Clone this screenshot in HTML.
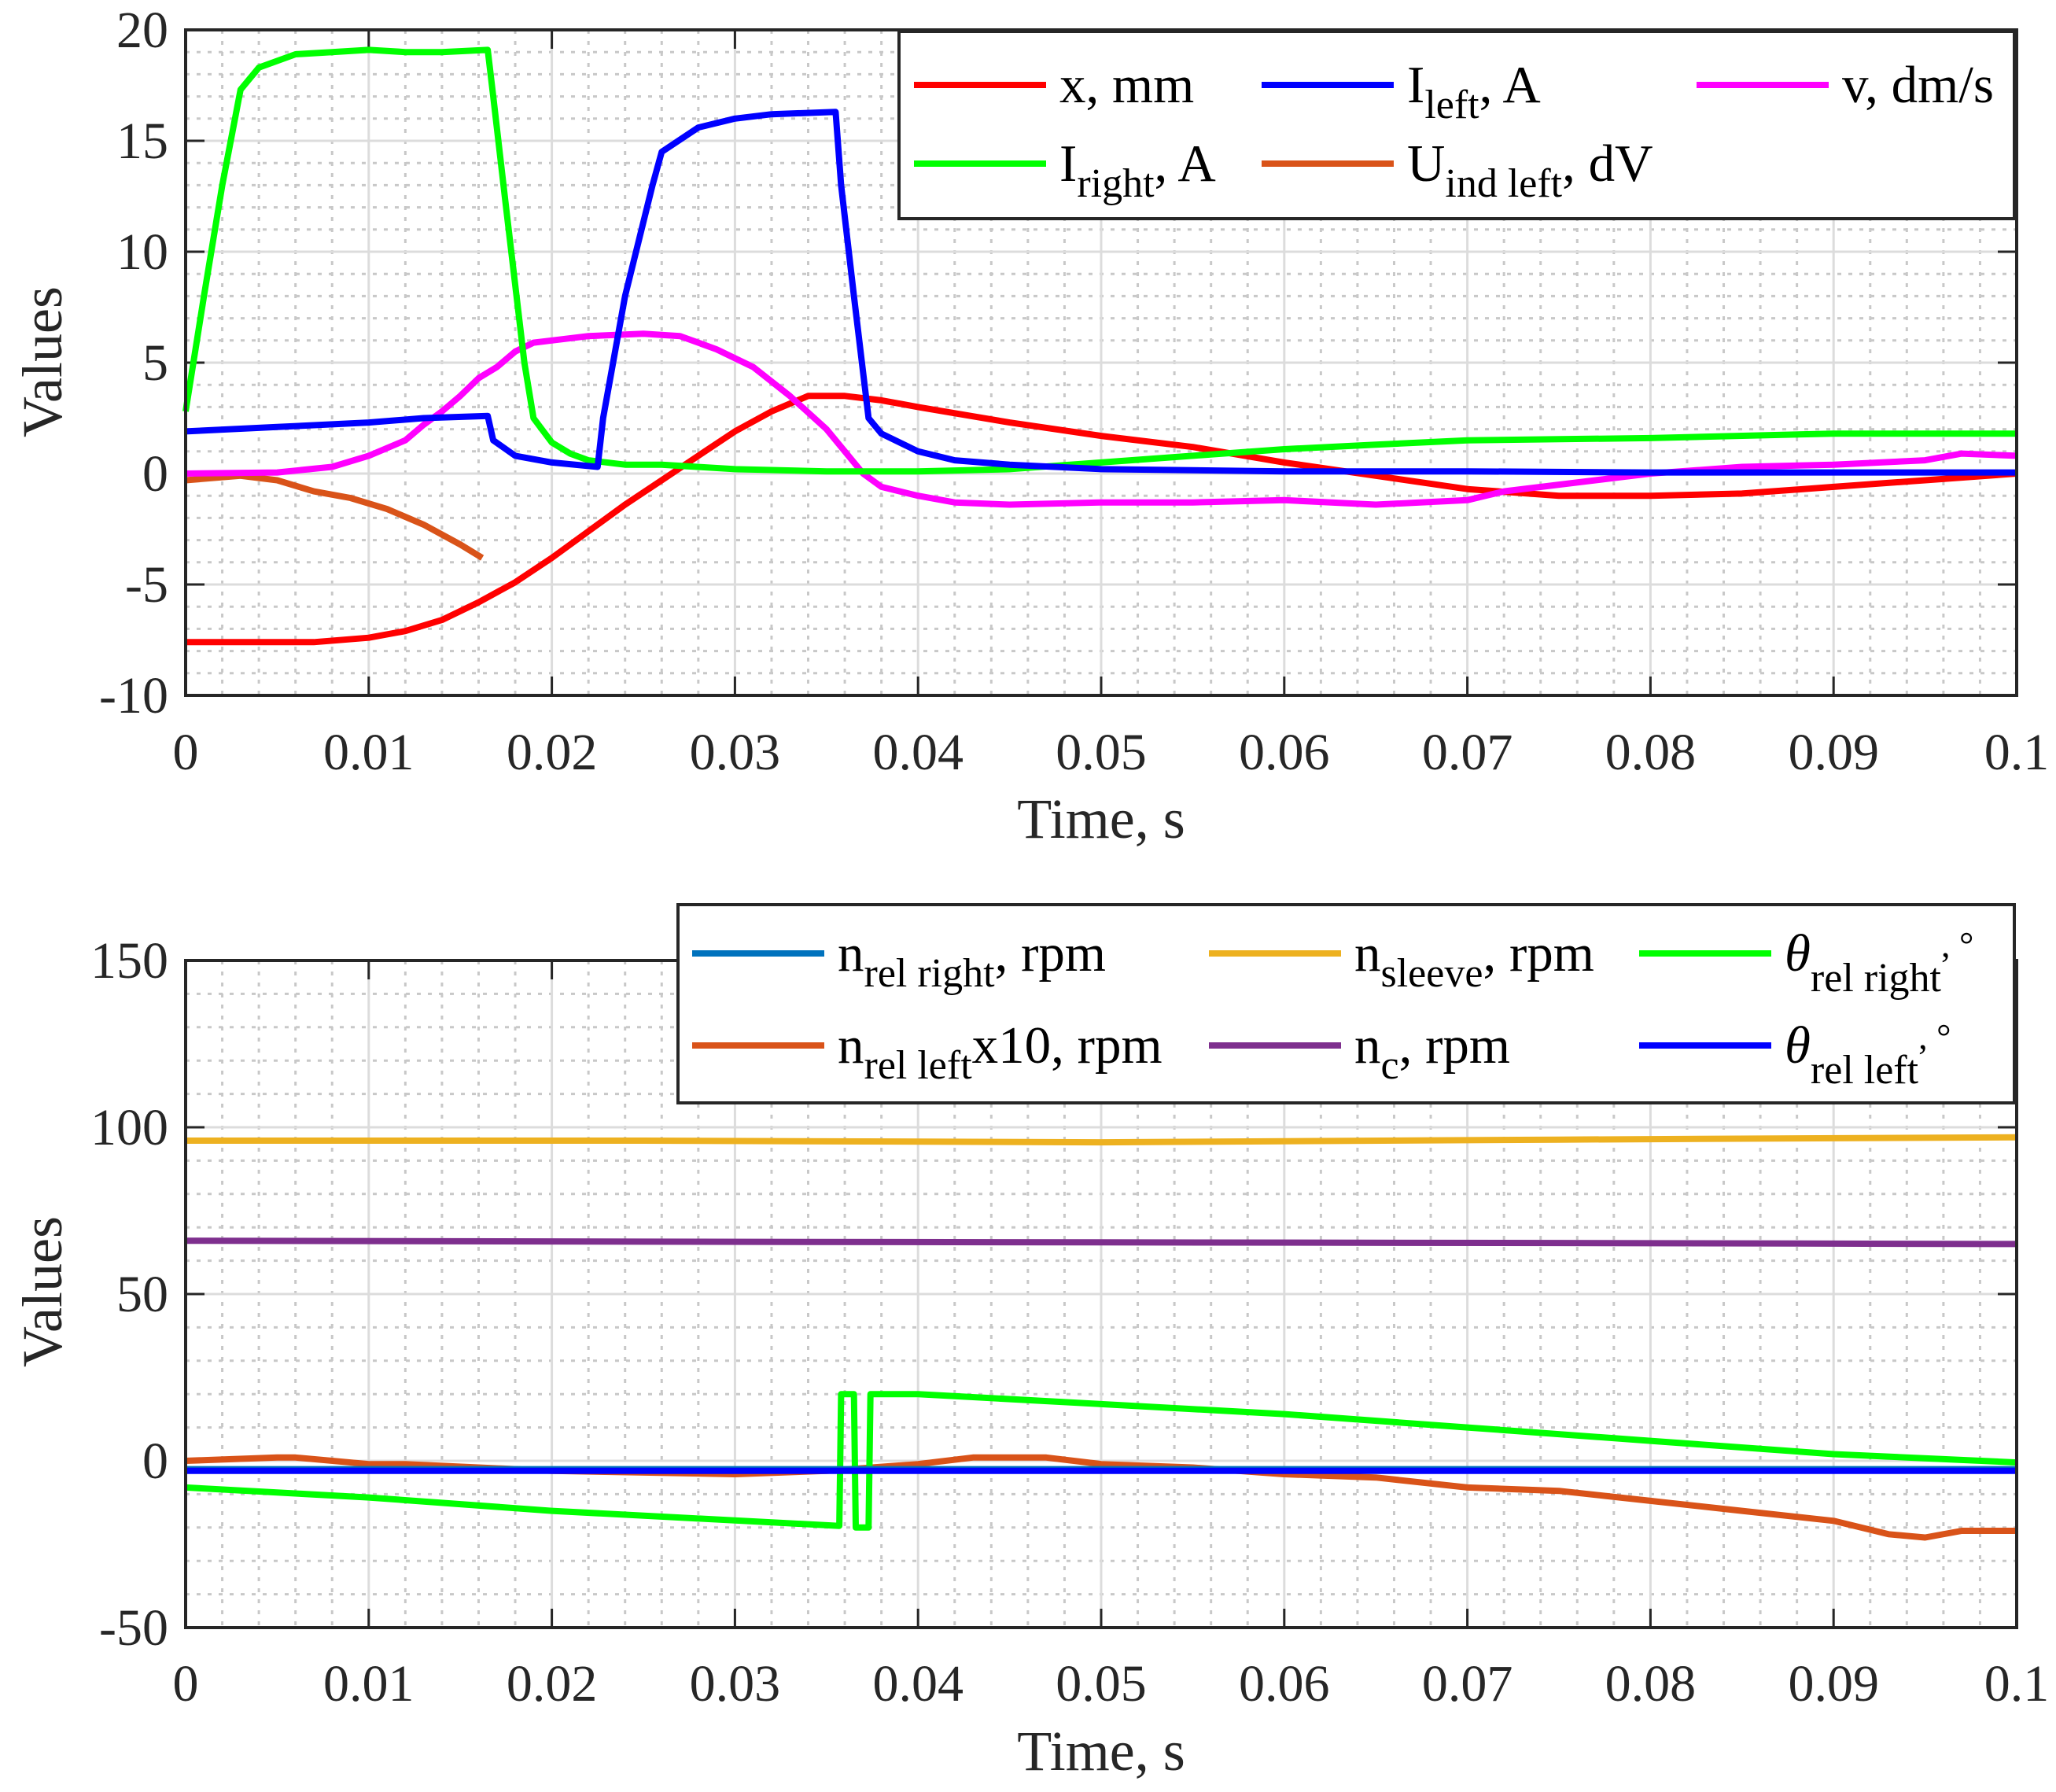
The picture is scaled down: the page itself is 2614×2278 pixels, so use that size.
<!DOCTYPE html>
<html><head><meta charset="utf-8"><style>
html,body{margin:0;padding:0;background:#fff}
svg{display:block;font-family:"Liberation Serif","DejaVu Serif",serif}
</style></head><body>
<svg id="chart" xmlns="http://www.w3.org/2000/svg" width="2614" height="2278" viewBox="0 0 2614 2278"></svg>
<script>
// ---- data (time in ms) ----
const xT=[0,7,10,12,14,16,18,20,22,24,26,28,30,32,34,36,38,40,45,50,55,60,65,70,75,80,85,90,95,100];
const xV=[-7.6,-7.6,-7.4,-7.1,-6.6,-5.8,-4.9,-3.8,-2.6,-1.4,-0.3,0.8,1.9,2.8,3.5,3.5,3.3,3.0,2.3,1.7,1.2,0.5,-0.1,-0.7,-1.0,-1.0,-0.9,-0.6,-0.3,0];
const ilT=[0,5,10,13,16.5,16.8,18,20,22.5,22.8,24,25.5,26,28,30,32,35.5,35.8,36.5,37.3,38,40,42,45,50,60,70,80,100];
const ilV=[1.9,2.1,2.3,2.5,2.6,1.5,0.8,0.5,0.3,2.5,8,13,14.5,15.6,16,16.2,16.3,13,8,2.5,1.8,1,0.6,0.4,0.2,0.1,0.1,0.05,0.05];
const vT=[0,5,8,10,12,13,14,15,16,17,18,19,20,22,25,27,29,31,33,35,36,37,38,40,42,45,50,55,60,65,70,72,75,80,85,90,95,97,100];
const vV=[0,0.05,0.3,0.8,1.5,2.2,2.8,3.5,4.3,4.8,5.5,5.9,6.0,6.2,6.3,6.2,5.6,4.8,3.5,2.0,1,0,-0.6,-1.0,-1.3,-1.4,-1.3,-1.3,-1.2,-1.4,-1.2,-0.8,-0.5,0,0.3,0.4,0.6,0.9,0.8];
const irT=[0,1,2,3,4,6,8,10,12,14,16.5,16.8,17.5,18.5,19,20,21,22,24,26,30,35,40,45,50,55,60,65,70,80,90,100];
const irV=[2.8,8,13,17.3,18.3,18.9,19.0,19.1,19.0,19.0,19.1,17,12,5,2.5,1.4,0.9,0.6,0.4,0.4,0.2,0.1,0.1,0.2,0.5,0.8,1.1,1.3,1.5,1.6,1.8,1.8];
const uT=[0,3,5,7,9,11,13,15,16.2];
const uV=[-0.3,-0.1,-0.3,-0.8,-1.1,-1.6,-2.3,-3.2,-3.8];
// bottom
const nsT=[0,25,50,75,100]; const nsV=[96,96,95.5,96.3,97];
const ncT=[0,25,50,75,100]; const ncV=[66,65.7,65.5,65.3,65];
const nrrT=[0,100]; const nrrV=[-2.5,-2.5];
const tlT=[0,100]; const tlV=[-3,-3];
const trT=[0,10,20,35.7,35.8,36.5,36.6,37.3,37.4,40,50,60,70,80,90,100];
const trV=[-8,-11,-15,-19.5,20,20,-20,-20,20,20,17,14,10,6,2,-0.5];
const nlT=[0,5,6,10,12,20,30,35,40,43,47,50,55,60,65,70,75,80,85,90,93,95,97,100];
const nlV=[0,1,1,-1,-1,-3,-4,-3,-1,1,1,-1,-2,-4,-5,-8,-9,-12,-15,-18,-22,-23,-21,-21];
const xTicks=["0","0.01","0.02","0.03","0.04","0.05","0.06","0.07","0.08","0.09","0.1"];
const topYTicks=[20,15,10,5,0,-5,-10];
const botYTicks=[150,100,50,0,-50];

const NS="http://www.w3.org/2000/svg";
const svg=document.getElementById('chart');
function el(tag,attrs,parent){const e=document.createElementNS(NS,tag);for(const k in attrs)e.setAttribute(k,attrs[k]);(parent||svg).appendChild(e);return e;}
const X0=236,X1=2564;
const sx=t=>X0+(t/100)*(X1-X0);

function panel(name,yTop,yBot,vMax,vMin,minorStep,ticks,series,xlabY,tickLabY,ylabY){
  const sy=v=>yTop+(vMax-v)/(vMax-vMin)*(yBot-yTop);
  const g=el('g',{});
  
  
  for(let t=0;t<=100;t+=2){if(t%10===0)continue;const l=el('line',{x1:sx(t),x2:sx(t),y1:yTop,y2:yBot,stroke:'#c8c8c8','stroke-width':3,'stroke-dasharray':'5 9'},g);}
  for(let v=vMin;v<=vMax;v+=minorStep){if(ticks.includes(v))continue;const l=el('line',{x1:X0,x2:X1,y1:sy(v),y2:sy(v),stroke:'#c8c8c8','stroke-width':3,'stroke-dasharray':'5 9'},g);}
  xTicks.forEach((lab,i)=>{const x=sx(i*10);const l=el('line',{x1:x,x2:x,y1:yTop,y2:yBot,stroke:'#dcdcdc','stroke-width':3},g);
    el('line',{x1:x,x2:x,y1:yBot,y2:yBot-24,stroke:'#262626','stroke-width':3},g);el('line',{x1:x,x2:x,y1:yTop,y2:yTop+24,stroke:'#262626','stroke-width':3},g);
    const tx=el('text',{x:x,y:tickLabY,'font-size':66,'text-anchor':'middle',fill:'#262626'},g);tx.textContent=lab;});
  ticks.forEach(v=>{const y=sy(v);const l=el('line',{x1:X0,x2:X1,y1:y,y2:y,stroke:'#dcdcdc','stroke-width':3},g);
    el('line',{x1:X0,x2:X0+24,y1:y,y2:y,stroke:'#262626','stroke-width':3},g);el('line',{x1:X1,x2:X1-24,y1:y,y2:y,stroke:'#262626','stroke-width':3},g);
    const tx=el('text',{x:X0-22,y:y+22,'font-size':66,'text-anchor':'end',fill:'#262626'},g);tx.textContent=String(v);});
  series.forEach(s=>{const d=s.t.map((t,i)=>(i?'L':'M')+sx(t).toFixed(1)+' '+sy(s.v[i]).toFixed(1)).join(' ');
    const p=el('path',{d:d,fill:'none',stroke:s.c,'stroke-width':8,'stroke-linejoin':'round'},g);});
  const fr=el('rect',{x:X0,y:yTop,width:X1-X0,height:yBot-yTop,fill:'none',stroke:'#262626','stroke-width':4},g);
  const xl=el('text',{x:(X0+X1)/2,y:xlabY,'font-size':72,'text-anchor':'middle',fill:'#262626'},g);xl.textContent='Time, s';
  const yl=el('text',{x:0,y:0,'font-size':72,'text-anchor':'middle',fill:'#262626',transform:`translate(78 ${ylabY}) rotate(-90)`},g);yl.textContent='Values';
}
panel('top-panel',38,884,20,-10,1,topYTicks,[
 {n:'series-u-ind-left',c:'#d95319',t:uT,v:uV},
 {n:'series-x',c:'#ff0000',t:xT,v:xV},
 {n:'series-v',c:'#ff00ff',t:vT,v:vV},
 {n:'series-i-right',c:'#00ff00',t:irT,v:irV},
 {n:'series-i-left',c:'#0000ff',t:ilT,v:ilV}],1065,978,460);
panel('bottom-panel',1221,2069,150,-50,10,botYTicks,[
 {n:'series-n-sleeve',c:'#edb120',t:nsT,v:nsV},
 {n:'series-n-c',c:'#7e2f8e',t:ncT,v:ncV},
 {n:'series-n-rel-left',c:'#d95319',t:nlT,v:nlV},
 {n:'series-theta-rel-right',c:'#00ff00',t:trT,v:trV},
 {n:'series-n-rel-right',c:'#0072bd',t:nrrT,v:nrrV},
 {n:'series-theta-rel-left',c:'#0000ff',t:tlT,v:tlV}],2250,2162,1642);

function legend(name,bx,by,bw,bh,items){
  const g=el('g',{});
  el('rect',{x:bx,y:by,width:bw,height:bh,fill:'#fff',stroke:'#262626','stroke-width':4},g);
  items.forEach(it=>{const e=el('g',{},g);
    el('line',{x1:it.x,x2:it.x+168,y1:it.y,y2:it.y,stroke:it.c,'stroke-width':8},e);
    const t=el('text',{x:it.x+185,y:it.y+22,'font-size':67,fill:'#000'},e);t.innerHTML=it.h;});
}
legend('top-legend',1143,40,1418,238,[
 {x:1162,y:108,c:'#ff0000',h:'x, mm'},
 {x:1604,y:108,c:'#0000ff',h:'I<tspan dy="20" font-size="52">left</tspan><tspan dy="-20">, A</tspan>'},
 {x:2157,y:108,c:'#ff00ff',h:'v, dm/s'},
 {x:1162,y:208,c:'#00ff00',h:'I<tspan dy="20" font-size="52">right</tspan><tspan dy="-20">, A</tspan>'},
 {x:1604,y:208,c:'#d95319',h:'U<tspan dy="20" font-size="52">ind left</tspan><tspan dy="-20">, dV</tspan>'}]);
legend('bottom-legend',862,1150,1699,252,[
 {x:880,y:1212,c:'#0072bd',h:'n<tspan dy="20" font-size="52">rel right</tspan><tspan dy="-20">, rpm</tspan>'},
 {x:1537,y:1212,c:'#edb120',h:'n<tspan dy="20" font-size="52">sleeve</tspan><tspan dy="-20">, rpm</tspan>'},
 {x:2084,y:1212,c:'#00ff00',h:'<tspan font-style="italic">θ</tspan><tspan dy="26" font-size="52">rel right</tspan><tspan dy="-44" font-size="46">, °</tspan>'},
 {x:880,y:1329,c:'#d95319',h:'n<tspan dy="20" font-size="52">rel left</tspan><tspan dy="-20">x10, rpm</tspan>'},
 {x:1537,y:1329,c:'#7e2f8e',h:'n<tspan dy="20" font-size="52">c</tspan><tspan dy="-20">, rpm</tspan>'},
 {x:2084,y:1329,c:'#0000ff',h:'<tspan font-style="italic">θ</tspan><tspan dy="26" font-size="52">rel left</tspan><tspan dy="-44" font-size="46">, °</tspan>'}]);
</script>
</body></html>
